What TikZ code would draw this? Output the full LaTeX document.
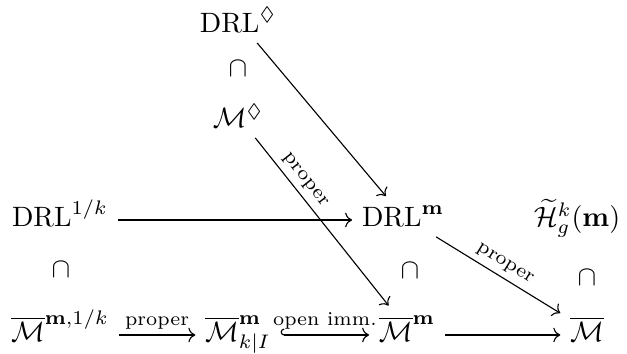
\documentclass[tikz,border=0pt]{standalone}
\usepackage{amsmath,amssymb}
\usepackage{tikz}
\usetikzlibrary{positioning,arrows.meta,calc}
\newcommand{\Mbar}{\overline{\mathcal{M}}}
\newcommand{\mm}{\mathbf{m}}

\begin{document}
\begin{tikzpicture}[x=0.357pt,y=-0.357pt,>={To},
  lbl/.style={font=\scriptsize,inner sep=2pt},
  ax/.style={yshift=2.5pt}]
  \useasboundingbox (0,0) rectangle (627,354);
  % upper column
  \node[anchor=base] (drlD) at (238,33) {$\mathrm{DRL}^{\Diamond}$};
  \node (capD) at (238,69) {$\cap$};
  \node[anchor=base] (MD) at (238,128) {$\mathcal{M}^{\Diamond}$};
  % middle row
  \node[anchor=base] (drlk) at (60,227) {$\mathrm{DRL}^{1/k}$};
  \node[anchor=base] (drlm) at (403,227) {$\mathrm{DRL}^{\mm}$};
  \node[anchor=base] (H) at (577,227) {$\widetilde{\mathcal{H}}^k_g(\mm)$};
  \node (capk) at (61,270) {$\cap$};
  \node (capm) at (410,271) {$\cap$};
  \node (capH) at (587,278) {$\cap$};
  % bottom row
  \node[anchor=base] (Mk) at (60,342) {$\Mbar^{\mm,1/k}$};
  \node[anchor=base] (MkI) at (238,342) {$\Mbar^{\mm}_{k|I}$};
  \node[anchor=base] (Mm) at (407,342) {$\Mbar^{\mm}$};
  \node[anchor=base] (Mb) at (587,342) {$\Mbar$};
  % maps
  \draw[->] ([ax]drlk.base east) -- ([ax]drlm.base west);
  \draw[->] ([ax]Mk.base east) -- node[lbl,above] {proper} ([ax]MkI.base west);
  \draw[{Hooks[right]}->] ([ax]MkI.base east) -- node[lbl,above] {open imm.} ([ax]Mm.base west);
  \draw[->] ([ax]Mm.base east) -- ([ax]Mb.base west);
  \draw[->] (drlD) -- (drlm);
  \draw[->] (MD) -- node[lbl,above,sloped,pos=0.3] {proper} (Mm);
  \draw[->] (drlm) -- node[lbl,above,sloped] {proper} (Mb);
\end{tikzpicture}
\end{document}
